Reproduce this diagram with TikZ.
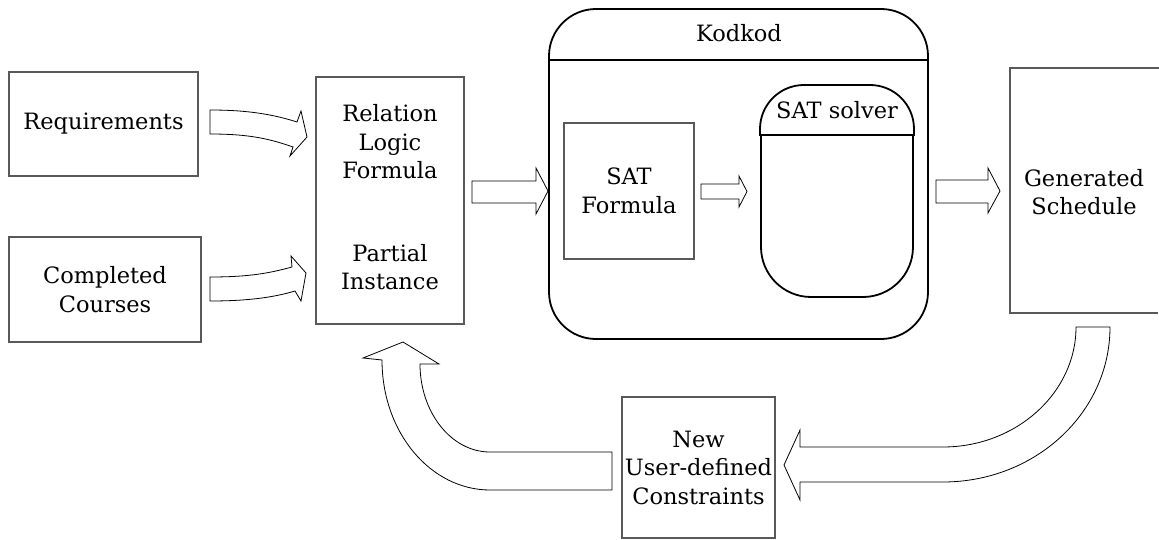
\documentclass[tikz,border=0pt]{standalone}
\usepackage{fontspec}
\setmainfont{DejaVu Serif}
\begin{document}
\begin{tikzpicture}[x=1pt,y=-1pt,
  box/.style={draw=black!65,line width=1.2pt,inner sep=0pt},
  lbl/.style={font=\fontsize{22.5}{28.5}\selectfont,align=center,inner sep=0pt},
  blockarrow/.style={draw=black,line width=0.8pt,fill=white,line join=miter},
  thick box/.style={draw=black,line width=1.8pt}]
\useasboundingbox (0,0) rectangle (1159,540);

% boxes
\node[box,minimum width=189pt,minimum height=104pt] (req) at (103.5,124) {};
\node[lbl] (reqt) at (req.center) {Requirements};
\node[box,minimum width=192pt,minimum height=105pt] (comp) at (105,289.5) {};
\node[lbl] (compt) at (comp.center) {Completed\\Courses};
\node[box,minimum width=148pt,minimum height=247pt] (rel) at (390,200.5) {};
\node[lbl] (relt) at (390,142) {Relation\\Logic\\Formula};
\node[lbl] (part) at (390,267) {Partial\\Instance};

% Kodkod
\draw[thick box,rounded corners=47pt] (549,9) rectangle (928,339);
\node (kod) at (738.5,174) [minimum width=379pt,minimum height=330pt] {};
\draw[thick box] (549,60) -- (928,60);
\node[lbl] (kodt) at (739,33) {Kodkod};

\node[box,minimum width=130pt,minimum height=136pt] (satf) at (629,191) {};
\node[lbl] (satft) at (satf.center) {SAT\\Formula};

% SAT solver
\draw[thick box,rounded corners=44pt] (760,135) -- (760,85) -- (914,85) -- (914,135);
\draw[thick box] (759,135) -- (915,135);
\draw[thick box,rounded corners=50pt] (761,135) -- (761,297) -- (913,297) -- (913,135);
\node[lbl] (solvt) at (837,110) {SAT solver};

% Generated
\draw[box] (1159,68) -- (1010,68) -- (1010,313) -- (1158,313);
\node[lbl] (gent) at (1084,192) {Generated\\Schedule};

% New constraints
\node[box,minimum width=153pt,minimum height=141pt] (new) at (698.5,467.5) {};
\node[lbl] (newt) at (new.center) {New\\User-defined\\Constraints};

% straight block arrows
\draw[blockarrow] (472,181) -- (536,181) -- (536,168) -- (548,191) -- (536,214) -- (536,203) -- (472,203) -- cycle;
\draw[blockarrow] (701,184) -- (739,184) -- (739,176) -- (747,191.5) -- (739,207) -- (739,199) -- (701,199) -- cycle;
\draw[blockarrow] (936,180) -- (988,180) -- (988,168) -- (1000,191) -- (988,213) -- (988,203) -- (936,203) -- cycle;

% curved input arrows
\draw[blockarrow] (210,110) .. controls (250,110) and (275,115) .. (297,122)
  -- (301,111) -- (307,137) -- (290,156) -- (293,147)
  .. controls (270,139) and (250,134) .. (210,134) -- cycle;
\draw[blockarrow] (210,277) .. controls (250,277) and (270,273) .. (292,267)
  -- (291,256) -- (306,273) -- (301,301) -- (295,291)
  .. controls (275,297) and (250,301) .. (210,301) -- cycle;

% feedback arrows
\draw[blockarrow] (1076,327) -- (1110,327) .. controls (1110,413) and (1035,482) .. (943,482)
  -- (800,482) -- (800,500) -- (784,465) -- (800,430) -- (800,447) -- (943,447)
  .. controls (1016,447) and (1076,393) .. (1076,327) -- cycle;
\draw[blockarrow] (612,452) -- (490,452) .. controls (451,452) and (420,412) .. (420,364)
  -- (439,364) -- (403,342) -- (363,358) -- (382,360)
  .. controls (382,433) and (431,490) .. (490,490) -- (612,490) -- cycle;
\end{tikzpicture}
\end{document}
